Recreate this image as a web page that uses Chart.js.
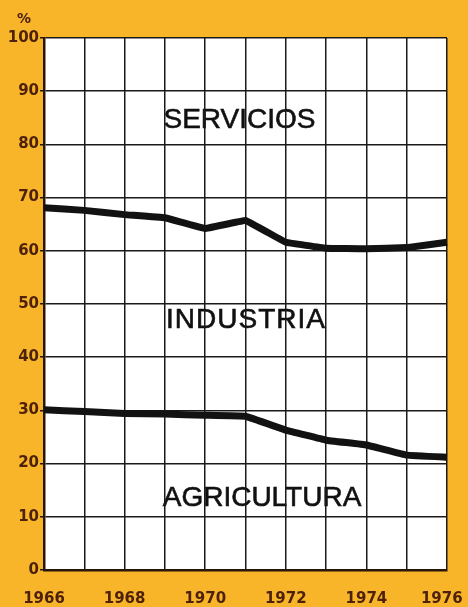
<!DOCTYPE html>
<html>
<head>
<meta charset="utf-8">
<script src="https://cdn.jsdelivr.net/npm/chart.js@4/dist/chart.umd.min.js"></script>
<style>
  html, body { margin: 0; padding: 0; background: #F8B52A; }
  #wrap { width: 468px; height: 607px; }
</style>
</head>
<body>
<div id="wrap"><canvas id="c" width="468" height="607"></canvas></div>
<script>
const years = ['1966','1967','1968','1969','1970','1971','1972','1973','1974','1975','1976'];
// Upper boundary: agricultura + industria (servicios above)
const servBoundary = [68.1, 67.6, 66.8, 66.2, 64.2, 65.7, 61.6, 60.5, 60.4, 60.6, 61.6];
// Lower boundary: agricultura share
const agriBoundary = [30.1, 29.8, 29.4, 29.3, 29.1, 28.9, 26.3, 24.4, 23.5, 21.6, 21.2];
const yTicks = [0,10,20,30,40,50,60,70,80,90,100];
const sectorLabels = [
  { text: 'SERVICIOS', year: 1970.85, value: 84.6, spacing: 0 },
  { text: 'INDUSTRIA', year: 1971.0, value: 47.0, spacing: 1 },
  { text: 'AGRICULTURA', year: 1971.41, value: 13.4, spacing: 0 }
];

const bgPlugin = {
  id: 'bgText',
  beforeDraw(chart) {
    const {ctx, chartArea: a, scales} = chart;
    ctx.save();
    ctx.fillStyle = '#FFFFFF';
    ctx.fillRect(a.left, a.top, a.right - a.left, a.bottom - a.top);
    ctx.fillStyle = '#111111';
    ctx.font = '28px "Liberation Sans", Arial, sans-serif';
    ctx.textAlign = 'center';
    ctx.textBaseline = 'middle';
    const x0 = scales.x.getPixelForValue(0);
    const step = scales.x.getPixelForValue(1) - x0;
    sectorLabels.forEach(l => {
      ctx.letterSpacing = l.spacing + 'px';
      const px = x0 + (l.year - 1966) * step + l.spacing / 2;
      const py = scales.y.getPixelForValue(l.value);
      ctx.fillText(l.text, px, py);
      ctx.strokeStyle = '#111111';
      ctx.lineWidth = 0.6;
      ctx.strokeText(l.text, px, py);
    });
    ctx.letterSpacing = '0px';
    ctx.fillStyle = '#4E220A';
    ctx.font = 'bold 14px "DejaVu Sans", sans-serif';
    ctx.textAlign = 'center';
    ctx.fillText('%', 24, 19);
    ctx.restore();
  }
};

new Chart(document.getElementById('c'), {
  type: 'line',
  data: {
    labels: years,
    datasets: [
      { data: servBoundary, borderColor: '#121212', borderWidth: 7, pointRadius: 0, tension: 0.05, fill: false, borderCapStyle: 'butt' },
      { data: agriBoundary, borderColor: '#121212', borderWidth: 7, pointRadius: 0, tension: 0.05, fill: false, borderCapStyle: 'butt' }
    ]
  },
  options: {
    responsive: false,
    animation: false,
    devicePixelRatio: 1,
    layout: { padding: { left: 0, right: 21, top: 38, bottom: 0 } },
    plugins: { legend: { display: false }, tooltip: { enabled: false } },
    scales: {
      x: {
        type: 'category',
        offset: false,
        afterFit(s) { s.height = 37; s.paddingLeft = 0; s.paddingRight = 0; },
        grid: { color: '#1a1a1a', lineWidth: 1.5, drawTicks: false },
        border: { color: '#2a1608', width: 2.5 },
        ticks: {
          autoSkip: false,
          maxRotation: 0,
          padding: 20,
          color: '#4E220A',
          font: { family: '"DejaVu Sans", sans-serif', weight: 'bold', size: 15 },
          callback(v, i) {
            if (i % 2 !== 0) return '';
            return i === years.length - 1 ? years[i] + '  ' : years[i];
          }
        }
      },
      y: {
        min: 0, max: 100,
        afterFit(s) { s.width = 44; s.paddingTop = 0; s.paddingBottom = 0; },
        afterBuildTicks(s) { s.ticks = yTicks.map(v => ({ value: v })); },
        grid: { color: '#1a1a1a', lineWidth: 1.5, drawTicks: true, tickLength: 4 },
        border: { color: '#2a1608', width: 2.5 },
        ticks: {
          padding: 1,
          color: '#4E220A',
          font: { family: '"DejaVu Sans", sans-serif', weight: 'bold', size: 15 }
        }
      }
    }
  },
  plugins: [bgPlugin]
});
</script>
</body>
</html>
